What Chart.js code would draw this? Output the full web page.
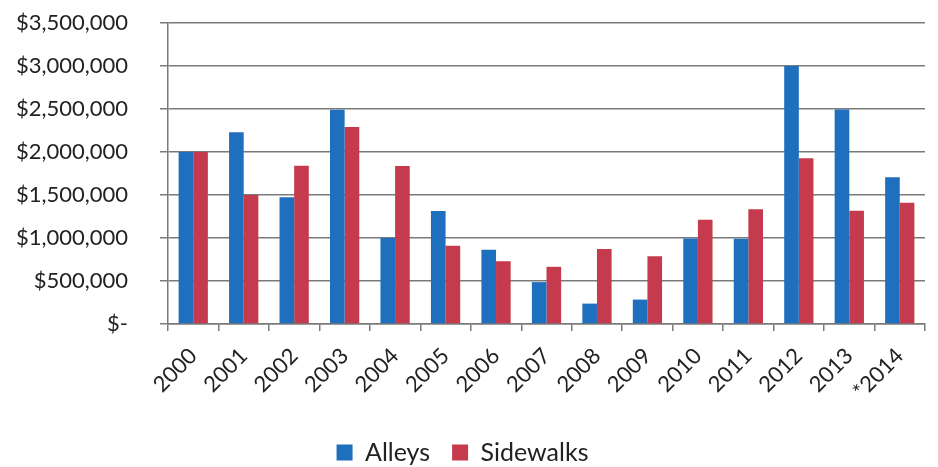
<!DOCTYPE html>
<html>
<head>
<meta charset="utf-8">
<script src="https://cdn.jsdelivr.net/npm/chart.js@4.4.1/dist/chart.umd.min.js"></script>
<style>
html,body{margin:0;padding:0;background:#fff;}
#wrap{width:938px;height:467px;}
</style>
</head>
<body>
<div id="wrap"><canvas id="c" width="938" height="467"></canvas></div>
<script>
const categories = ['2000','2001','2002','2003','2004','2005','2006','2007','2008','2009','2010','2011','2012','2013','*2014'];
const alleys = [2000000,2230000,1475000,2490000,1000000,1315000,862000,487000,237000,284000,995000,990000,3000000,2495000,1705000];
const sidewalks = [2000000,1500000,1840000,2290000,1837000,909000,730000,665000,871000,789000,1213000,1334000,1928000,1318000,1411000];
const yTicks = [0,500000,1000000,1500000,2000000,2500000,3000000,3500000];

const FONT = 'Lato, "Open Sans", sans-serif';
const GRID = '#7a7a7a';

function fmt(v){
  if (v === 0) return '$-';
  return '$' + v.toLocaleString('en-US');
}

new Chart(document.getElementById('c'), {
  type: 'bar',
  data: {
    labels: categories,
    datasets: [
      {label: 'Alleys', data: alleys, backgroundColor: '#1e6fbd', categoryPercentage: 0.58, barPercentage: 1.0},
      {label: 'Sidewalks', data: sidewalks, backgroundColor: '#c53a4c', categoryPercentage: 0.58, barPercentage: 1.0}
    ]
  },
  options: {
    responsive: false,
    animation: false,
    layout: {padding: {top: 0, right: 13, left: 0, bottom: -8}},
    scales: {
      y: {
        min: 0, max: 3500000,
        afterBuildTicks: (s) => { s.ticks = yTicks.map(v => ({value: v})); },
        afterFit: (s) => { s.width = 168; s.paddingTop = 23; s.paddingBottom = 13; },
        ticks: {callback: fmt, color: '#222', font: {family: FONT, size: 22}, padding: 32},
        grid: {color: GRID, lineWidth: 1.5, tickLength: 8},
        border: {display: true, color: GRID, width: 1.5}
      },
      x: {
        afterFit: (s) => { s.height = 94; },
        ticks: {minRotation: 45, maxRotation: 45, color: '#222', font: {family: FONT, size: 22}, padding: 12},
        grid: {offset: true, drawOnChartArea: false, color: GRID, lineWidth: 1.5, tickLength: 7},
        border: {display: true, color: GRID, width: 1.5}
      }
    },
    plugins: {
      legend: {
        position: 'bottom',
        labels: {boxWidth: 16, boxHeight: 16, color: '#222', font: {family: FONT, size: 25}, padding: 22}
      },
      tooltip: {enabled: false}
    }
  }
});
</script>
</body>
</html>
